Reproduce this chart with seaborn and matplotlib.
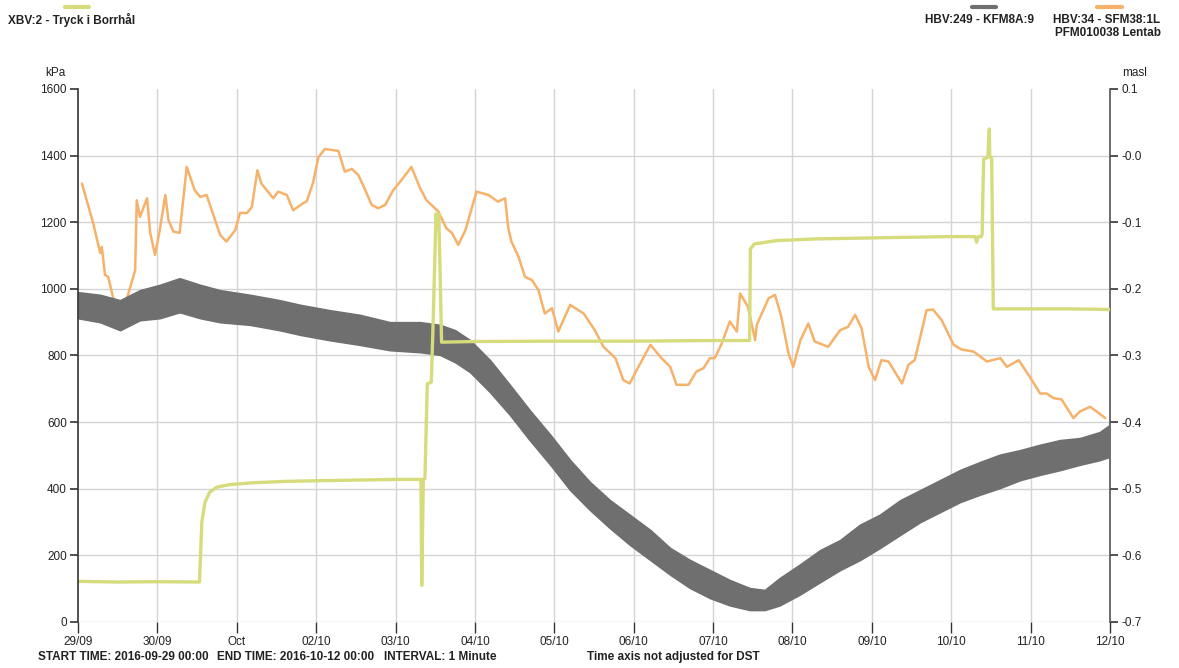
import numpy as np
import pandas as pd
import matplotlib
matplotlib.use("Agg")
import matplotlib.pyplot as plt
import seaborn as sns

# ---------------- data (days since 2016-09-29 00:00) ----------------
x_tick_labels = ["29/09", "30/09", "Oct", "02/10", "03/10", "04/10", "05/10",
                 "06/10", "07/10", "08/10", "09/10", "10/10", "11/10", "12/10"]
left_ticks = [0, 200, 400, 600, 800, 1000, 1200, 1400, 1600]
right_ticks = [-0.7, -0.6, -0.5, -0.4, -0.3, -0.2, -0.1, 0.0, 0.1]
right_tick_labels = ["-0.7", "-0.6", "-0.5", "-0.4", "-0.3", "-0.2", "-0.1", "-0.0", "0.1"]

# XBV:2 - Tryck i Borrhål (kPa, left axis)
xbv_days = [0.0, 0.5, 1.0, 1.53, 1.56, 1.60, 1.66, 1.75, 1.90, 2.2, 2.6, 3.0, 3.5, 4.0,
            4.32, 4.33, 4.35, 4.37, 4.40, 4.45, 4.47, 4.51, 4.53, 4.545, 4.58,
            5.0, 6.0, 7.0, 8.0, 8.46, 8.47, 8.52, 8.8, 9.3, 10.0, 11.0, 11.30, 11.32, 11.34, 11.38,
            11.39, 11.40, 11.41, 11.46, 11.48, 11.485, 11.51, 11.53, 12.0, 12.5, 13.0]
xbv_kpa = [122, 120, 121, 120, 300, 360, 390, 405, 412, 418, 422, 424, 426, 428,
           428, 110, 428, 430, 715, 720, 870, 1225, 1180, 1225, 840,
           842, 843, 843, 845, 845, 1120, 1135, 1145, 1150, 1153, 1157, 1157, 1140, 1157, 1157,
           1165, 1300, 1390, 1395, 1480, 1400, 1390, 940, 940, 940, 938]

# HBV:34 - SFM38:1L PFM010038 Lentab (masl, right axis)
sfm_days = [0.05, 0.19, 0.28, 0.30, 0.34, 0.38, 0.47, 0.53, 0.61, 0.72, 0.74, 0.78, 0.87, 0.91,
            0.97, 1.03, 1.10, 1.14, 1.20, 1.28, 1.37, 1.47, 1.54, 1.62, 1.79, 1.87, 1.98, 2.04,
            2.13, 2.19, 2.26, 2.31, 2.46, 2.52, 2.63, 2.71, 2.84, 2.88, 2.96, 3.03, 3.11, 3.28,
            3.36, 3.45, 3.53, 3.59, 3.70, 3.78, 3.87, 3.97, 4.06, 4.20, 4.31, 4.39, 4.54, 4.64,
            4.71, 4.79, 4.88, 5.02, 5.17, 5.29, 5.38, 5.42, 5.46, 5.55, 5.63, 5.72, 5.80, 5.88,
            5.97, 6.05, 6.20, 6.37, 6.51, 6.62, 6.77, 6.87, 6.95, 7.06, 7.21, 7.35, 7.46, 7.54,
            7.69, 7.79, 7.88, 7.96, 8.02, 8.11, 8.21, 8.30, 8.34, 8.44, 8.53, 8.55, 8.70, 8.78,
            8.86, 8.95, 9.01, 9.10, 9.20, 9.28, 9.45, 9.60, 9.70, 9.79, 9.87, 9.96, 10.04, 10.12,
            10.21, 10.38, 10.46, 10.54, 10.69, 10.77, 10.88, 11.03, 11.13, 11.28, 11.45, 11.62,
            11.70, 11.85, 11.99, 12.12, 12.20, 12.29, 12.39, 12.54, 12.62, 12.75, 12.83, 12.94]
sfm_masl = [-0.042, -0.101, -0.146, -0.137, -0.179, -0.182, -0.227, -0.219, -0.217, -0.172,
            -0.067, -0.092, -0.064, -0.116, -0.149, -0.112, -0.059, -0.097, -0.114, -0.116,
            -0.017, -0.052, -0.062, -0.059, -0.119, -0.129, -0.112, -0.086, -0.086, -0.077,
            -0.022, -0.042, -0.064, -0.054, -0.059, -0.082, -0.071, -0.069, -0.041, -0.002,
            0.010, 0.007, -0.024, -0.020, -0.029, -0.044, -0.074, -0.079, -0.074, -0.052,
            -0.039, -0.017, -0.049, -0.067, -0.084, -0.109, -0.116, -0.134, -0.112, -0.054,
            -0.059, -0.069, -0.064, -0.109, -0.129, -0.152, -0.182, -0.187, -0.202, -0.237,
            -0.229, -0.264, -0.224, -0.237, -0.262, -0.287, -0.304, -0.337, -0.342, -0.317,
            -0.284, -0.304, -0.317, -0.344, -0.344, -0.324, -0.319, -0.304, -0.304, -0.282,
            -0.249, -0.264, -0.207, -0.227, -0.277, -0.254, -0.214, -0.209, -0.242, -0.297,
            -0.317, -0.277, -0.252, -0.279, -0.287, -0.262, -0.257, -0.239, -0.259, -0.317,
            -0.337, -0.307, -0.309, -0.342, -0.314, -0.307, -0.232, -0.231, -0.247, -0.284,
            -0.291, -0.294, -0.309, -0.304, -0.317, -0.307, -0.332, -0.357, -0.357, -0.364,
            -0.366, -0.394, -0.384, -0.377, -0.384, -0.394]

# HBV:249 - KFM8A:9 (masl, right axis) - envelope of the noisy 1-minute band
kfm_days = [0.0, 0.28, 0.53, 0.78, 1.03, 1.28, 1.54, 1.79, 2.17, 2.54, 2.80, 3.17, 3.55,
            3.93, 4.31, 4.56, 4.75, 4.94, 5.19, 5.44, 5.69, 5.95, 6.20, 6.45, 6.70, 6.95,
            7.21, 7.46, 7.71, 7.96, 8.21, 8.46, 8.65, 8.84, 9.09, 9.35, 9.60, 9.85, 10.10,
            10.36, 10.61, 10.86, 11.11, 11.36, 11.61, 11.87, 12.12, 12.37, 12.62, 12.87, 13.0]
kfm_upper = [-0.205, -0.209, -0.217, -0.202, -0.194, -0.184, -0.194, -0.202, -0.209, -0.217,
             -0.224, -0.232, -0.239, -0.250, -0.250, -0.254, -0.262, -0.277, -0.307, -0.344,
             -0.382, -0.419, -0.457, -0.490, -0.517, -0.539, -0.562, -0.589, -0.607, -0.622,
             -0.637, -0.649, -0.652, -0.634, -0.614, -0.592, -0.577, -0.554, -0.539, -0.517,
             -0.502, -0.487, -0.472, -0.460, -0.449, -0.442, -0.434, -0.427, -0.424, -0.415,
             -0.404]
kfm_lower = [-0.244, -0.250, -0.262, -0.247, -0.244, -0.235, -0.244, -0.250, -0.254, -0.262,
             -0.269, -0.277, -0.284, -0.292, -0.295, -0.299, -0.310, -0.325, -0.355, -0.389,
             -0.427, -0.464, -0.502, -0.532, -0.559, -0.584, -0.607, -0.629, -0.649, -0.664,
             -0.675, -0.682, -0.682, -0.675, -0.659, -0.640, -0.622, -0.607, -0.589, -0.569,
             -0.550, -0.535, -0.520, -0.509, -0.499, -0.487, -0.479, -0.472, -0.464, -0.457,
             -0.452]

# ---------------- styling ----------------
sns.set_theme(style="white")
plt.rcParams["font.family"] = ["Liberation Sans", "DejaVu Sans"]

C_YEL = "#d6dc7c"
C_ORA = "#f6b26b"
C_GRY = "#6f6f6f"
C_GRID = "#d4d4d4"
C_TXT = "#222222"

fig = plt.figure(figsize=(11.79, 6.68), dpi=100)
ax = fig.add_axes([78 / 1179, 1 - 622 / 668, (1110 - 78) / 1179, (622 - 89) / 668])
ax2 = ax.twinx()

# gray band on right axis
ax2.fill_between(kfm_days, kfm_lower, kfm_upper, color=C_GRY, linewidth=1.2,
                 edgecolor=C_GRY, zorder=3)

df_sfm = pd.DataFrame({"day": sfm_days, "masl": sfm_masl})
sns.lineplot(data=df_sfm, x="day", y="masl", ax=ax2, color=C_ORA, linewidth=1.8,
             zorder=2, estimator=None, sort=False)

df_xbv = pd.DataFrame({"day": xbv_days, "kpa": xbv_kpa})
sns.lineplot(data=df_xbv, x="day", y="kpa", ax=ax, color=C_YEL, linewidth=2.4,
             estimator=None, sort=False)

# put left axis drawing above ax2 so yellow is visible on top
ax.set_zorder(ax2.get_zorder() + 1)
ax.patch.set_visible(False)

ax.set_xlim(0, 13)
ax.set_ylim(0, 1600)
ax2.set_ylim(-0.7, 0.1)

ax.set_xticks(range(14))
ax.set_xticklabels(x_tick_labels)
ax.set_yticks(left_ticks)
ax.set_yticklabels([str(v) for v in left_ticks])
ax2.set_yticks(right_ticks)
ax2.set_yticklabels(right_tick_labels)
ax.set_xlabel("")
ax.set_ylabel("")
ax2.set_xlabel("")
ax2.set_ylabel("")

# grid drawn on ax2 (bottom layer)
for d in range(1, 14):
    ax2.axvline(d, color=C_GRID, linewidth=1.0, zorder=0)
for v in right_ticks[:-1]:
    ax2.axhline(v, color=C_GRID, linewidth=1.0, zorder=0)
ax.grid(False)
ax2.grid(False)

for a in (ax, ax2):
    for s in a.spines.values():
        s.set_visible(False)
ax.spines["left"].set_visible(True)
ax.spines["left"].set_color("#333333")
ax.spines["left"].set_linewidth(1.2)
ax2.spines["right"].set_visible(True)
ax2.spines["right"].set_color("#555555")
ax2.spines["right"].set_linewidth(1.2)

ax.tick_params(axis="y", direction="out", length=6, width=1.2, color="#333333",
               labelsize=8.5, labelcolor=C_TXT, pad=2, left=True)
ax.tick_params(axis="x", direction="out", length=8, width=1.0, color="#333333",
               labelsize=8.5, labelcolor=C_TXT, pad=2, bottom=True)
ax2.tick_params(axis="y", direction="out", length=6, width=1.2, color="#333333",
                labelsize=8.5, labelcolor=C_TXT, pad=2, right=True)

# unit labels
fig.text(55 / 1179, 1 - 73 / 668, "kPa", fontsize=8.5, color=C_TXT, ha="center", va="center")
fig.text(1135 / 1179, 1 - 73 / 668, "masl", fontsize=8.5, color=C_TXT, ha="center", va="center")

# legends at top
def swatch(x0, x1, y, color):
    fig.add_artist(plt.Line2D([x0 / 1179, x1 / 1179], [1 - y / 668, 1 - y / 668],
                              color=color, linewidth=3, transform=fig.transFigure))

swatch(65, 89, 7, C_YEL)
swatch(972, 996, 7, C_GRY)
swatch(1097, 1122, 7, C_ORA)
fig.text(8 / 1179, 1 - 20 / 668, "XBV:2 - Tryck i Borrhål", fontsize=8.5, fontweight="bold",
         color=C_TXT, ha="left", va="center")
fig.text(925 / 1179, 1 - 20 / 668, "HBV:249 - KFM8A:9", fontsize=8.5, fontweight="bold",
         color=C_TXT, ha="left", va="center")
fig.text(1053 / 1179, 1 - 20 / 668, "HBV:34 - SFM38:1L", fontsize=8.5, fontweight="bold",
         color=C_TXT, ha="left", va="center")
fig.text(1055 / 1179, 1 - 33 / 668, "PFM010038 Lentab", fontsize=8.5, fontweight="bold",
         color=C_TXT, ha="left", va="center")

# footer
footer = [(38, "START TIME: 2016-09-29 00:00"), (217, "END TIME: 2016-10-12 00:00"),
          (384, "INTERVAL: 1 Minute"), (587, "Time axis not adjusted for DST")]
for xp, t in footer:
    fig.text(xp / 1179, 1 - 657 / 668, t, fontsize=8.5, fontweight="bold",
             color=C_TXT, ha="left", va="center")

fig.savefig("out.png", dpi=100)
